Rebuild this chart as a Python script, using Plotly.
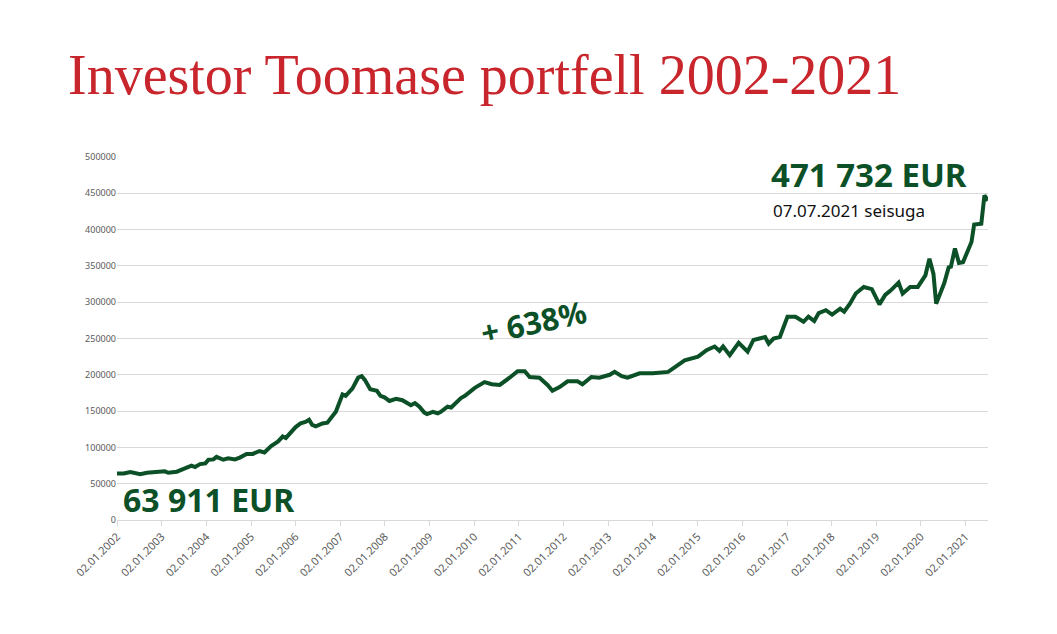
import plotly.graph_objects as go
import pandas as pd

# fractional years and portfolio values (EUR)
years = [2002.0,2002.15,2002.3,2002.52,2002.67,2002.89,2003.07,2003.15,2003.34,2003.52,2003.67,2003.75,2003.86,2003.98,
 2004.05,2004.16,2004.23,2004.38,2004.49,2004.64,2004.75,2004.9,2005.04,2005.19,2005.3,2005.45,2005.6,2005.71,2005.78,
 2006.0,2006.11,2006.22,2006.3,2006.37,2006.45,2006.6,2006.71,2006.9,2007.05,2007.12,2007.27,2007.4,2007.48,2007.55,
 2007.67,2007.82,2007.9,2007.99,2008.1,2008.25,2008.39,2008.58,2008.67,2008.77,2008.88,2008.94,2009.07,2009.18,2009.25,
 2009.4,2009.48,2009.7,
 2009.79,2010.01,2010.23,2010.39,2010.57,2010.79,2010.97,2011.13,2011.24,2011.46,2011.64,2011.75,2011.91,2012.09,
 2012.31,2012.42,2012.62,2012.8,2013.03,2013.14,2013.3,2013.43,2013.7,2013.92,
 2014.0,2014.34,2014.71,2015.01,2015.2,2015.38,2015.49,2015.57,2015.72,2015.92,2016.12,2016.25,2016.51,2016.59,2016.7,
 2016.84,2017.01,2017.19,2017.37,2017.48,2017.61,2017.71,2017.87,2018.01,2018.19,2018.28,2018.41,2018.54,2018.72,
 2018.9,2019.07,2019.2,2019.32,2019.5,2019.59,2019.76,2019.93,2020.1,2020.19,2020.28,2020.34,2020.52,2020.62,2020.67,
 2020.76,2020.85,2020.94,2021.13,2021.19,2021.35,2021.42,2021.5]
values = [64000,64000,66000,63000,65000,66500,67000,65000,66500,71000,75000,73000,77000,78000,
 83000,83500,87000,83000,85000,83500,86000,91000,91000,95000,93000,102000,108000,115000,113000,
 128000,133000,135000,138000,131000,129000,133000,134000,149000,173000,171000,181000,196000,198000,193000,
 180000,178000,171000,169000,164000,167000,165000,158000,161000,156000,148000,146000,149000,147000,149000,
 156000,155000,168000,
 171000,182000,190000,187000,186000,196000,205000,205000,197000,196000,186000,178000,183000,191000,
 191000,187000,197000,196000,200000,204000,198000,196000,202000,202000,
 202000,204000,220000,225000,234000,239000,233000,239000,227000,244000,232000,248000,252000,243000,250000,
 252000,280000,280000,273000,280000,274000,285000,289000,283000,291000,287000,298000,312000,321000,318000,
 297000,310000,316000,327000,312000,321000,321000,337000,360000,339000,298000,326000,348000,349000,374000,
 354000,355000,383000,407000,408000,447000,440000,471732]

tick_years = list(range(2002, 2022))
tick_labels = [f"02.01.{y}" for y in tick_years]
y_ticks = [0,50000,100000,150000,200000,250000,300000,350000,400000,450000,500000]

def frac_to_date(fy):
    y = int(fy)
    start = pd.Timestamp(y, 1, 2)
    return start + (pd.Timestamp(y + 1, 1, 2) - start) * (fy - y)

dates = [frac_to_date(v) for v in years]
tick_dates = [pd.Timestamp(y, 1, 2) for y in tick_years]

fig = go.Figure(go.Scatter(x=dates, y=values, mode="lines",
                           line=dict(color="#0b5026", width=4)))

L, R, T, B = 117, 988, 157, 520
W, H = 1057, 634
OFF = 8
def px(x): return (x - L) / (R - L)
def py(y): return (B - y) / (B - T)

fig.update_layout(
    width=W, height=H, autosize=False,
    margin=dict(l=L - OFF, r=W - R + OFF, t=T - OFF, b=H - B + OFF),
    paper_bgcolor="white", plot_bgcolor="white", showlegend=False,
    xaxis=dict(range=[pd.Timestamp(2002, 1, 2), dates[-1]], tickvals=tick_dates, ticktext=tick_labels,
               tickangle=-45, tickfont=dict(family="Noto Sans", size=11, color="#595959"),
               showgrid=False, showline=True, linecolor="#d9d9d9", ticks="outside",
               tickcolor="#d9d9d9", ticklen=5, zeroline=False),
    yaxis=dict(range=[0, 500000], tickvals=y_ticks, ticktext=[str(v) for v in y_ticks],
               tickfont=dict(family="Noto Sans", size=9, color="#595959"),
               showgrid=True, gridcolor="#d9d9d9", zeroline=False, ticks="", ticklen=6),
    annotations=[
        dict(text="Investor Toomase portfell 2002-2021", xref="paper", yref="paper",
             x=px(66), y=py(75), xanchor="left", yanchor="middle", showarrow=False,
             font=dict(family="Liberation Serif", size=56, color="#c8252c")),
        dict(text="<b>471 732 EUR</b>", xref="paper", yref="paper", x=px(969), y=py(174),
             xanchor="right", yanchor="middle", showarrow=False,
             font=dict(family="Noto Sans", size=33, color="#0b5026")),
        dict(text="07.07.2021 seisuga", xref="paper", yref="paper", x=px(771), y=py(210),
             xanchor="left", yanchor="middle", showarrow=False,
             font=dict(family="Noto Sans", size=17, color="#111111")),
        dict(text="<b>63 911 EUR</b>", xref="paper", yref="paper", x=px(121), y=py(499),
             xanchor="left", yanchor="middle", showarrow=False,
             font=dict(family="Noto Sans", size=32, color="#0b5026")),
        dict(text="<b>+ 638%</b>", xref="paper", yref="paper", x=px(533), y=py(322),
             xanchor="center", yanchor="middle", showarrow=False, textangle=-12,
             font=dict(family="Noto Sans", size=31, color="#0b5026")),
    ],
)

fig.write_html("out.html")
